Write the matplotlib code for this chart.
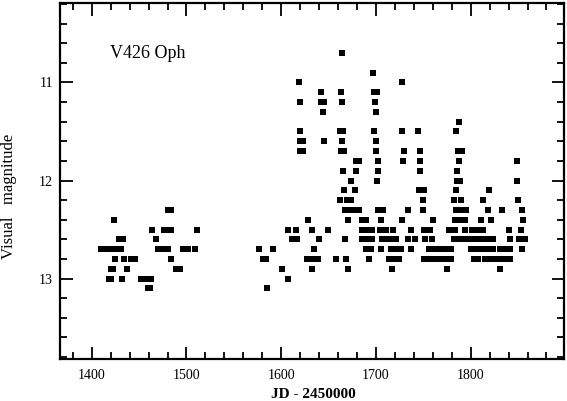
import matplotlib
matplotlib.use('Agg')
import matplotlib.pyplot as plt
from matplotlib.ticker import MultipleLocator

plt.rcParams['font.family'] = ['Liberation Serif', 'DejaVu Serif']

star_name = 'V426 Oph'
x_label = 'JD - 2450000'
y_label = 'Visual   magnitude'

# estimates, one line per magnitude level
jd = [
    1664,
    1697,
    1619, 1728,
    1642, 1663, 1698, 1701,
    1620, 1642, 1645, 1664, 1699,
    1644, 1700,
    1788,
    1620, 1662, 1665, 1698, 1728, 1744, 1785,
    1620, 1623, 1645, 1664, 1700,
    1620, 1623, 1663, 1666, 1700, 1730, 1746, 1787, 1791,
    1679, 1682, 1702, 1729, 1746, 1788, 1849,
    1665, 1679, 1702, 1747, 1786,
    1674, 1701, 1786, 1789, 1849,
    1666, 1678, 1745, 1751, 1785, 1819,
    1662, 1669, 1674, 1750, 1782, 1790, 1813, 1850,
    1481, 1484, 1667, 1672, 1678, 1682, 1702, 1707, 1734, 1750, 1784, 1790, 1795, 1818, 1833, 1854,
    1423, 1628, 1671, 1685, 1690, 1705, 1727, 1760, 1783, 1788, 1794, 1811, 1821, 1855,
    1464, 1476, 1480, 1484, 1511, 1607, 1616, 1633, 1649, 1685, 1691, 1696, 1704, 1711, 1718,
    1737, 1751, 1757, 1777, 1783, 1794, 1801, 1807, 1813, 1840, 1853,
    1429, 1433, 1468, 1611, 1617, 1640, 1667, 1685, 1690, 1696, 1706, 1711, 1716, 1721, 1734,
    1741, 1752, 1759, 1782, 1788, 1793, 1799, 1804, 1809, 1814, 1819, 1824, 1842, 1851, 1857,
    1410, 1416, 1422, 1427, 1431, 1470, 1475, 1480, 1496, 1502, 1509, 1577, 1591, 1635, 1689,
    1695, 1705, 1716, 1721, 1726, 1737, 1756, 1762, 1768, 1773, 1779, 1800, 1806, 1811, 1815,
    1820, 1824, 1831, 1837, 1842, 1854,
    1425, 1434, 1441, 1446, 1484, 1581, 1584, 1627, 1632, 1639, 1658, 1668, 1693, 1714, 1719,
    1724, 1751, 1757, 1762, 1768, 1774, 1779, 1803, 1808, 1815, 1820, 1826, 1831, 1836, 1842,
    1420, 1422, 1437, 1489, 1493, 1601, 1633, 1671, 1717, 1775, 1831,
    1418, 1420, 1432, 1452, 1458, 1463, 1607,
    1459, 1462, 1585,
]
vmag = (
    [10.7] * 1 + [10.9] * 1 + [11.0] * 2 + [11.1] * 4 + [11.2] * 5 + [11.3] * 2
    + [11.4] * 1 + [11.5] * 7 + [11.6] * 5 + [11.7] * 9 + [11.8] * 7 + [11.9] * 5
    + [12.0] * 5 + [12.1] * 6 + [12.2] * 8 + [12.3] * 16 + [12.4] * 14 + [12.5] * 26
    + [12.6] * 30 + [12.7] * 36 + [12.8] * 30 + [12.9] * 11 + [13.0] * 7 + [13.1] * 3
)

fig = plt.figure(figsize=(5.67, 4.01), dpi=100)
ax = fig.add_axes([60 / 567, 42 / 401, 504 / 567, 356 / 401])

ax.plot(jd, vmag, 's', color='black', markersize=4.4, markeredgewidth=0)

ax.set_xlim(1366.5, 1898.5)
ax.set_ylim(13.82, 10.19)
ax.xaxis.set_major_locator(MultipleLocator(100))
ax.xaxis.set_minor_locator(MultipleLocator(20))
ax.yaxis.set_major_locator(MultipleLocator(1))
ax.yaxis.set_minor_locator(MultipleLocator(0.2))

ax.tick_params(which='both', direction='in', top=True, right=True, width=1.3, labelsize=10)
ax.tick_params(which='major', length=9)
ax.tick_params(axis='x', which='major', pad=7)
ax.tick_params(axis='y', which='major', pad=5)
ax.tick_params(which='minor', length=5)
for spine in ax.spines.values():
    spine.set_linewidth(1.6)

fig.text(110 / 567, 1 - 53 / 401, star_name, fontsize=13, va='center', ha='left')
fig.text(9 / 567, 1 - 196 / 401, y_label, fontsize=12, rotation=90, va='center', ha='center')
fig.text(313 / 567, 1 - 394 / 401, x_label, fontsize=11, fontweight='bold', va='center', ha='center')

fig.savefig('out.png', dpi=100)
